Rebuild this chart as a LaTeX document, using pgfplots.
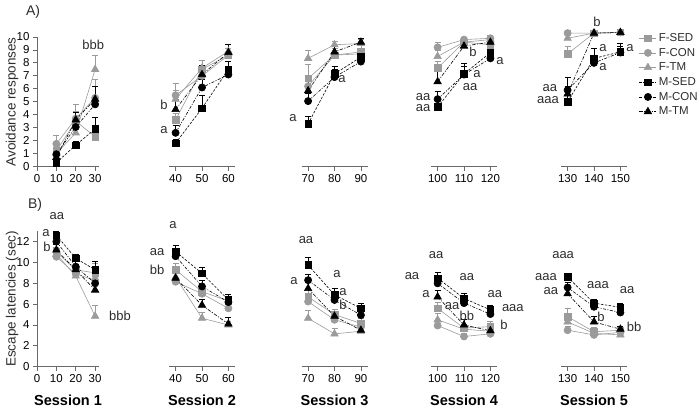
\documentclass[border=0pt]{standalone}
\usepackage{fontspec}
\setmainfont{Liberation Sans}
\usepackage{pgfplots}
\usepackage{pgfplotstable}
\pgfplotsset{compat=1.18}

\definecolor{fgray}{RGB}{155,155,155}
\definecolor{axgray}{RGB}{105,105,105}
\definecolor{txt}{RGB}{45,45,45}

% Panel A: avoidance responses (value, +error)
\pgfplotstableread{
x   FSED eFSED FCON eFCON FTM eFTM MSED eMSED MCON eMCON MTM eMTM
10  1.2  0.4   1.75 0.65  1.0  0.4  0.3  0.3   0.95 0.4   0.7  0.4
20  3.5  0.8   3.7  1.1   2.6  0.6  1.65 0.3   3.05 0.7   3.6  0.6
30  2.3  0.4   5.3  1.4   7.5  1.1  2.9  0.9   4.8  0.6   5.2  1.0
40  3.6  0.5   5.5  0.9   5.2  0.7  1.8  0.3   2.6  0.6   4.4  0.8
50  7.5  0.7   7.0  0.8   7.6  0.6  4.5  1.0   6.1  0.6   7.1  0.7
60  8.6  0.5   8.6  0.5   8.9  0.5  7.5  0.6   7.1  0.6   8.8  0.6
70  6.8  1.1   6.2  0.8   8.35 0.6  3.3  0.6   5.05 0.6   5.85 0.7
80  8.6  0.5   8.6  0.5   9.4  0.3  7.15 0.6   6.9  0.6   8.85 0.4
90  8.85 0.5   8.7  0.4   9.5  0.3  8.45 0.5   8.1  0.5   9.6  0.3
100 7.6  0.5   9.2  0.4   8.5  0.5  4.6  0.5   5.2  0.6   6.55 0.8
110 9.6  0.3   9.8  0.2   9.6  0.3  7.15 0.8   7.1  0.6   9.3  0.4
120 9.4  0.4   9.9  0.2   9.8  0.2  8.8  0.5   8.35 0.5   9.6  0.3
130 8.7  0.6   10.3 0.2   9.9  0.3  5.0  0.5   5.9  1.0   5.6  0.6
140 10.3 0.1   10.3 0.1   10.3 0.1  8.35 0.8   8.0  0.5   10.3 0.1
150 10.35 0.1  10.35 0.1  10.35 0.1 8.85 0.7   8.8  0.5   10.35 0.1
}\dataA

% Panel B: escape latencies (value, +error)
\pgfplotstableread{
x   FSED eFSED FCON eFCON FTM eFTM MSED eMSED MCON eMCON MTM eMTM
10  11.0 0.5   10.55 0.3  10.8 0.4  12.6 0.4   12.0 0.5   11.2 0.5
20  9.3  0.5   8.9  0.3   8.7  0.4  10.4 0.4   9.6  0.5   9.3  0.5
30  9.0  0.9   8.3  0.6   4.85 1.0  9.3  0.8   8.0  0.7   7.35 0.6
40  9.3  0.6   8.15 0.4   8.6  0.5  11.05 0.6  10.6 0.6   8.5  0.6
50  7.2  0.6   7.0  0.6   4.65 0.6  8.95 0.6   7.7  0.6   5.9  0.6
60  6.3  0.5   5.6  0.4   4.0  0.4  6.4  0.5   6.2  0.4   4.1  0.6
70  6.7  0.7   6.25 0.6   4.65 0.8  9.75 0.7   8.3  0.6   7.5  0.6
80  5.0  0.5   4.5  0.4   3.15 0.5  6.9  0.6   6.4  0.5   4.85 0.5
90  4.15 0.5   3.8  0.4   3.4  0.4  5.6  0.5   4.95 0.5   3.5  0.4
100 5.6  0.6   3.95 0.5   4.5  0.6  8.5  0.6   8.0  0.5   6.7  0.6
110 3.7  0.4   2.9  0.3   3.6  0.4  6.55 0.5   6.1  0.5   4.0  0.5
120 3.85 0.5   3.15 0.3   3.4  0.4  5.45 0.4   5.05 0.4   3.45 0.5
130 4.8  0.8   3.5  0.4   4.3  0.5  8.6  0.4   7.6  0.5   7.0  0.5
140 3.35 0.4   3.05 0.3   3.2  0.3  6.1  0.4   5.75 0.4   4.3  0.5
150 3.5  0.3   3.3  0.3   3.05 0.3  5.7  0.4   5.2  0.4   3.6  0.3
}\dataB

\tikzset{lbl/.style={font=\fontsize{13}{13}\selectfont, text=txt, inner sep=0pt}}

\pgfplotsset{
  errb/.style={/pgfplots/error bars/y dir=plus, /pgfplots/error bars/y explicit,
    /pgfplots/error bars/error bar style={line width=0.6pt, solid},
    /pgfplots/error bars/error mark options={rotate=90, mark size=3pt, line width=0.6pt, solid}},
  fsed/.style={color=fgray, line width=0.6pt, solid, mark=square*, mark size=3.3pt, mark options={solid}, errb},
  fcon/.style={color=fgray, line width=0.6pt, solid, mark=*, mark size=3.6pt, mark options={solid}, errb},
  ftm/.style={color=fgray, line width=0.6pt, solid, mark=triangle*, mark size=4.3pt, mark options={solid}, errb},
  msed/.style={color=black, line width=0.6pt, dash pattern=on 2.5pt off 1.5pt, mark=square*, mark size=3.3pt, mark options={solid}, errb},
  mcon/.style={color=black, line width=0.6pt, dash pattern=on 3pt off 1.5pt on 1pt off 1.5pt, mark=*, mark size=3.6pt, mark options={solid}, errb},
  mtm/.style={color=black, line width=0.6pt, dash pattern=on 3.5pt off 1.5pt on 1pt off 1.5pt, mark=triangle*, mark size=4.3pt, mark options={solid}, errb},
  base/.style={scale only axis, clip=false,
    axis line style={draw=axgray, line width=0.8pt, -},
    tick style={draw=axgray, line width=0.8pt},
    major tick length=4pt, tick align=outside,
    ticklabel style={font=\fontsize{11.5}{11.5}\selectfont, text=black},
    /pgf/number format/assume math mode=true,
    xtick pos=bottom},
  first/.style={base, axis lines*=left, ytick pos=left},
  seg/.style={base, axis x line*=bottom, hide y axis},
  panA/.style={ymin=0, ymax=10, height=129.5pt},
  panB/.style={ymin=0, ymax=13, height=135.5pt},
  sess/.style={xlabel style={font=\bfseries\fontsize{14.5}{14.5}\selectfont, yshift=-6pt}},
  ylab/.style={ylabel style={font=\fontsize{13.5}{14}\selectfont, text=txt, at={(axis description cs:-0.4,0.5)}, anchor=center}},
}

\newcommand{\sixplots}[3]{%
  \addplot[fsed, restrict x to domain=#2:#3] table[x=x, y=FSED, y error=eFSED]{#1};
  \addplot[fcon, restrict x to domain=#2:#3] table[x=x, y=FCON, y error=eFCON]{#1};
  \addplot[ftm,  restrict x to domain=#2:#3] table[x=x, y=FTM,  y error=eFTM]{#1};
  \addplot[msed, restrict x to domain=#2:#3] table[x=x, y=MSED, y error=eMSED]{#1};
  \addplot[mcon, restrict x to domain=#2:#3] table[x=x, y=MCON, y error=eMCON]{#1};
  \addplot[mtm,  restrict x to domain=#2:#3] table[x=x, y=MTM,  y error=eMTM]{#1};
}

\begin{document}
\begin{tikzpicture}
\useasboundingbox (0pt,0pt) rectangle (700pt,410pt);

\node[font=\fontsize{14}{14}\selectfont, text=txt] at (33pt,398pt) {A)};
\node[font=\fontsize{14}{14}\selectfont, text=txt] at (35pt,205pt) {B)};

% ---------------- Panel A ----------------
\begin{axis}[first, panA, ylab, at={(37pt,243.5pt)}, anchor=south west, width=62pt,
  xmin=0, xmax=32, xtick={0,10,20,30}, ytick={0,1,...,10},
  ylabel={Avoidance responses}]
  \sixplots{\dataA}{0}{35}
  \node[lbl] at (axis cs:29,9.4) {bbb};
\end{axis}

\begin{axis}[seg, panA, at={(169pt,243.5pt)}, anchor=south west, width=66pt,
  xmin=37.5, xmax=62.5, xtick={40,50,60}]
  \sixplots{\dataA}{35}{65}
  \node[lbl] at (axis cs:35.6,4.75) {b};
  \node[lbl] at (axis cs:35.6,2.8) {a};
\end{axis}

\begin{axis}[seg, panA, at={(301.5pt,243.5pt)}, anchor=south west, width=66pt,
  xmin=67.5, xmax=92.5, xtick={70,80,90}]
  \sixplots{\dataA}{65}{95}
  \node[lbl] at (axis cs:64.3,3.75) {a};
  \node[lbl] at (axis cs:82.8,6.75) {a};
\end{axis}

\begin{axis}[seg, panA, at={(431pt,243.5pt)}, anchor=south west, width=66pt,
  xmin=97.5, xmax=122.5, xtick={100,110,120}]
  \sixplots{\dataA}{95}{125}
  \node[lbl] at (axis cs:113.4,8.84) {b};
  \node[lbl] at (axis cs:114.9,7.14) {a};
  \node[lbl] at (axis cs:112.3,6.14) {aa};
  \node[lbl] at (axis cs:123.6,8.15) {a};
  \node[lbl] at (axis cs:94.5,5.39) {aa};
  \node[lbl] at (axis cs:94.5,4.5) {aa};
\end{axis}

\begin{axis}[seg, panA, at={(561pt,243.5pt)}, anchor=south west, width=66pt,
  xmin=127.5, xmax=152.5, xtick={130,140,150},
  legend style={at={(rel axis cs:1.18,1.045)}, anchor=north west, draw=none, fill=none,
    font=\fontsize{11.5}{12}\selectfont, text=txt, row sep=1.2pt, inner sep=0pt},
  legend cell align=left]
  \sixplots{\dataA}{125}{155}
  \node[lbl] at (axis cs:141.1,11.18) {b};
  \node[lbl] at (axis cs:143.4,9.15) {a};
  \node[lbl] at (axis cs:143.4,7.68) {a};
  \node[lbl] at (axis cs:153.6,9.15) {a};
  \node[lbl] at (axis cs:123.3,6.06) {aa};
  \node[lbl] at (axis cs:122.6,5.14) {aaa};
  \legend{F-SED,F-CON,F-TM,M-SED,M-CON,M-TM}
\end{axis}

% ---------------- Panel B ----------------
\begin{axis}[first, panB, sess, ylab, at={(37pt,43.3pt)}, anchor=south west, width=62pt,
  xmin=0, xmax=32, xtick={0,10,20,30}, ytick={0,2,...,12},
  xlabel={Session 1},
  ylabel={Escape latencies (sec)}]
  \sixplots{\dataB}{0}{35}
  \node[lbl] at (axis cs:10.3,14.45) {aa};
  \node[lbl] at (axis cs:4.6,12.86) {a};
  \node[lbl] at (axis cs:5.2,11.5) {b};
  \node[lbl] at (axis cs:42.8,4.85) {bbb};
\end{axis}

\begin{axis}[seg, panB, sess, at={(169pt,43.3pt)}, anchor=south west, width=66pt,
  xmin=37.5, xmax=62.5, xtick={40,50,60}, xlabel={Session 2}]
  \sixplots{\dataB}{35}{65}
  \node[lbl] at (axis cs:39.0,13.6) {a};
  \node[lbl] at (axis cs:33.0,11.04) {aa};
  \node[lbl] at (axis cs:33.0,9.28) {bb};
\end{axis}

\begin{axis}[seg, panB, sess, at={(301.5pt,43.3pt)}, anchor=south west, width=66pt,
  xmin=67.5, xmax=92.5, xtick={70,80,90}, xlabel={Session 3}]
  \sixplots{\dataB}{65}{95}
  \node[lbl] at (axis cs:69.2,12.16) {aa};
  \node[lbl] at (axis cs:64.7,8.25) {a};
  \node[lbl] at (axis cs:80.9,8.9) {a};
  \node[lbl] at (axis cs:83.2,7.2) {a};
  \node[lbl] at (axis cs:83.2,5.92) {b};
\end{axis}

\begin{axis}[seg, panB, sess, at={(431pt,43.3pt)}, anchor=south west, width=66pt,
  xmin=97.5, xmax=122.5, xtick={100,110,120}, xlabel={Session 4}]
  \sixplots{\dataB}{95}{125}
  \node[lbl] at (axis cs:99.4,10.72) {aa};
  \node[lbl] at (axis cs:90.3,8.7) {aa};
  \node[lbl] at (axis cs:95.6,6.98) {a};
  \node[lbl] at (axis cs:105.5,5.83) {aa};
  \node[lbl] at (axis cs:111.1,8.58) {aa};
  \node[lbl] at (axis cs:111.1,4.87) {bb};
  \node[lbl] at (axis cs:121.7,6.98) {aa};
  \node[lbl] at (axis cs:128.5,5.6) {aaa};
  \node[lbl] at (axis cs:125.1,4.0) {b};
\end{axis}

\begin{axis}[seg, panB, sess, at={(561pt,43.3pt)}, anchor=south west, width=66pt,
  xmin=127.5, xmax=152.5, xtick={130,140,150}, xlabel={Session 5}]
  \sixplots{\dataB}{125}{155}
  \node[lbl] at (axis cs:128.3,10.72) {aaa};
  \node[lbl] at (axis cs:121.8,8.58) {aaa};
  \node[lbl] at (axis cs:123.7,7.29) {aa};
  \node[lbl] at (axis cs:141.5,7.84) {aaa};
  \node[lbl] at (axis cs:142.6,4.8) {b};
  \node[lbl] at (axis cs:152.5,7.36) {aa};
  \node[lbl] at (axis cs:155.2,3.84) {bb};
\end{axis}
\end{tikzpicture}
\end{document}
